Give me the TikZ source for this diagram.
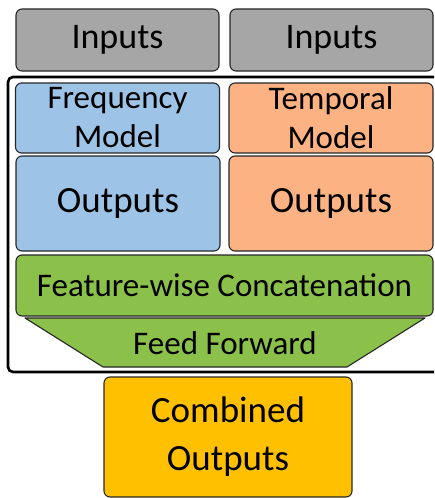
\documentclass[tikz,border=0pt]{standalone}
\usepackage{fontspec}
\setmainfont{Carlito}
\definecolor{ingray}{RGB}{166,166,166}
\definecolor{freqblue}{RGB}{157,195,230}
\definecolor{temporange}{RGB}{252,178,130}
\definecolor{ffgreen}{RGB}{139,193,74}
\definecolor{combgold}{RGB}{255,192,0}
\begin{document}
\begin{tikzpicture}[x=1pt, y=-1pt,
		box/.style={draw=black!85, line width=1.1pt, rounded corners=6pt, align=center, inner sep=0pt},
		inbox/.style={box, fill=ingray, minimum width=203pt, minimum height=62pt, font=\fontsize{36}{40}\selectfont},
		modelbox/.style={box, minimum width=204pt, minimum height=70pt, font=\fontsize{33}{39}\selectfont},
		outbox/.style={box, minimum width=204pt, minimum height=95pt, font=\fontsize{37}{42}\selectfont}
		]
	\useasboundingbox (0,0) rectangle (434,498);
	\clip (0,0) rectangle (434,498);
	% inputs
	\node [inbox] (in1) at (117.5,40) {Inputs};
	\node [inbox] (in2) at (331.5,40) {Inputs};
	% wrapper
	\draw [line width=2.6pt, rounded corners=5pt] (8,77) rectangle (445,372);
	\node [modelbox, fill=freqblue] (freq) at (117.5,118) {Frequency\\Model};
	\node [modelbox, fill=temporange] (temp) at (331,118) {Temporal\\Model};
	\node [outbox, fill=freqblue] (out1) at (118,203.5) {Outputs};
	\node [outbox, fill=temporange] (out2) at (331,203.5) {Outputs};
	\node [box, fill=ffgreen, minimum width=417pt, minimum height=61pt, font=\fontsize{33}{38}\selectfont] (concat) at (224.5,285.5) {Feature-wise Concatenation};
	\draw [draw=black!85, line width=1.1pt, fill=ffgreen, line join=round] (25,318) -- (425,318) -- (347,367) -- (103,367) -- cycle;
	\node [font=\fontsize{33}{38}\selectfont] (ff) at (225,343) {Feed Forward};
	% result
	\node [box, fill=combgold, minimum width=248pt, minimum height=120pt, font=\fontsize{37}{48}\selectfont] (comb) at (228,437) {Combined\\Outputs};
\end{tikzpicture}
\end{document}
